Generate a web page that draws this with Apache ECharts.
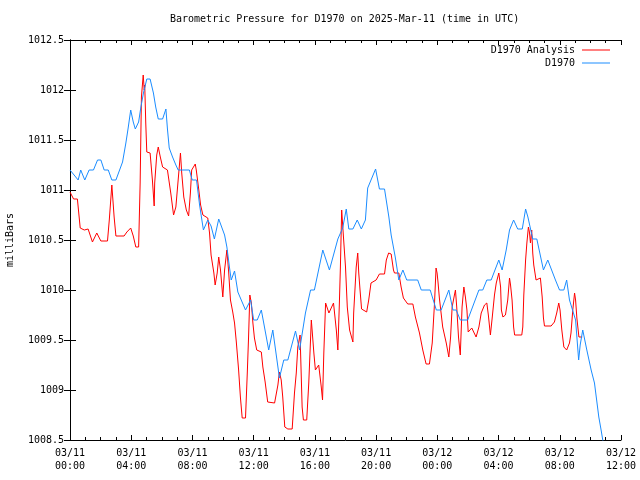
<!DOCTYPE html>
<html>
<head>
<meta charset="utf-8">
<script src="https://cdn.jsdelivr.net/npm/echarts@6/dist/echarts.min.js"></script>
<style>html,body{margin:0;padding:0;background:#fff}#c{width:640px;height:480px}</style>
</head>
<body>
<div id="c"></div>
<script>
// minutes since 2025-03-11 00:00 UTC
const xTickLabels = ['03/11\n00:00','03/11\n04:00','03/11\n08:00','03/11\n12:00','03/11\n16:00','03/11\n20:00','03/12\n00:00','03/12\n04:00','03/12\n08:00','03/12\n12:00'];
const yTickLabels = ['1008.5','1009','1009.5','1010','1010.5','1011','1011.5','1012','1012.5'];

const analysisTimes = [0,14,29,40,56,71,88,105,121,147,154,164,173,180,212,223,238,248,258,269,275,280,287,291,293,297,301,314,323,330,332,340,346,354,363,382,395,406,415,424,433,438,446,456,465,472,477,491,495,504,512,521,540,547,553,564,569,577,583,590,599,606,615,622,629,638,645,652,661,668,675,688,695,700,705,711,717,723,732,750,756,765,775,802,808,815,821,828,834,842,854,871,880,887,893,902,910,915,928,936,946,950,956,962,975,985,990,995,1002,1015,1033,1044,1050,1056,1060,1065,1072,1080,1087,1096,1109,1112,1122,1128,1132,1137,1143,1163,1171,1180,1200,1213,1233,1240,1249,1259,1268,1272,1289,1298,1307,1324,1344,1354,1370,1383,1396,1409,1420,1429,1435,1439,1443,1448,1461,1475,1485,1492,1498,1507,1511,1516,1523,1530,1537,1544,1550,1556,1561,1575,1592,1603,1612,1625,1634,1640,1648,1655,1664,1671,1681,1688,1691,1697,1707,1716,1723,1727,1733,1739,1743,1771,1775,1779,1786,1791,1797,1801,1805,1810,1814,1818,1827,1834,1844,1851,1856,1860,1886,1899,1908,1916,1921,1928,1936,1947,1958,1964,1971,1978,1982,1987,1995,2008];
const analysisValues = [1010.98,1010.91,1010.91,1010.62,1010.6,1010.61,1010.48,1010.57,1010.49,1010.49,1010.7,1011.05,1010.73,1010.54,1010.54,1010.58,1010.62,1010.54,1010.43,1010.43,1011.07,1011.93,1012.15,1012.0,1012.05,1011.67,1011.38,1011.37,1011.1,1010.84,1011.07,1011.35,1011.43,1011.33,1011.23,1011.2,1010.97,1010.75,1010.83,1011.1,1011.37,1011.17,1010.93,1010.8,1010.74,1010.97,1011.2,1011.26,1011.2,1011.02,1010.85,1010.75,1010.72,1010.57,1010.35,1010.17,1010.05,1010.17,1010.33,1010.2,1009.93,1010.2,1010.4,1010.18,1009.9,1009.78,1009.67,1009.48,1009.2,1008.93,1008.72,1008.72,1009.17,1009.53,1009.95,1009.87,1009.67,1009.52,1009.4,1009.38,1009.23,1009.08,1008.88,1008.87,1008.85,1009.05,1009.18,1009.1,1008.93,1008.63,1008.61,1008.61,1008.97,1009.17,1009.43,1009.55,1008.83,1008.7,1008.7,1009.07,1009.7,1009.57,1009.37,1009.2,1009.25,1009.03,1008.9,1009.37,1009.87,1009.77,1009.87,1009.6,1009.4,1009.87,1010.23,1010.8,1010.53,1010.23,1009.83,1009.6,1009.48,1009.77,1010.23,1010.37,1010.17,1010.0,1009.81,1009.78,1009.9,1010.07,1010.1,1010.16,1010.16,1010.3,1010.37,1010.36,1010.2,1010.17,1010.17,1010.03,1009.92,1009.86,1009.86,1009.73,1009.57,1009.4,1009.26,1009.26,1009.47,1009.87,1010.22,1010.17,1010.07,1009.92,1009.63,1009.47,1009.33,1009.53,1009.83,1009.95,1010.0,1009.83,1009.53,1009.35,1009.83,1010.03,1009.93,1009.8,1009.58,1009.62,1009.53,1009.63,1009.77,1009.85,1009.87,1009.75,1009.55,1009.72,1009.95,1010.07,1010.17,1010.03,1009.8,1009.73,1009.75,1009.9,1010.12,1010.05,1009.9,1009.63,1009.55,1009.55,1009.63,1009.95,1010.3,1010.47,1010.63,1010.58,1010.47,1010.6,1010.37,1010.25,1010.1,1010.08,1010.12,1009.93,1009.72,1009.64,1009.64,1009.68,1009.77,1009.87,1009.8,1009.6,1009.43,1009.4,1009.47,1009.57,1009.8,1009.97,1009.9,1009.72,1009.53,1009.53];

const stationTimes = [0,32,42,58,75,92,108,121,134,150,164,180,206,219,228,238,248,256,269,278,288,301,314,327,336,346,363,376,382,389,402,415,424,468,479,496,508,523,540,553,566,583,606,615,625,632,645,658,688,708,720,734,750,779,795,821,838,854,884,900,923,943,958,991,1017,1050,1069,1083,1093,1109,1126,1142,1158,1167,1198,1213,1233,1250,1259,1275,1289,1305,1320,1363,1377,1412,1436,1455,1485,1501,1514,1530,1559,1603,1618,1634,1651,1681,1694,1710,1723,1739,1755,1773,1786,1795,1814,1830,1856,1873,1903,1919,1936,1947,1958,1982,1994,2000,2010,2026,2043,2056,2073,2082,2095];
const stationValues = [1011.2,1011.1,1011.2,1011.1,1011.2,1011.2,1011.3,1011.3,1011.2,1011.2,1011.1,1011.1,1011.28,1011.47,1011.62,1011.8,1011.68,1011.61,1011.68,1011.83,1011.97,1012.11,1012.11,1011.97,1011.83,1011.71,1011.71,1011.81,1011.61,1011.42,1011.33,1011.25,1011.2,1011.2,1011.1,1011.1,1010.85,1010.6,1010.7,1010.64,1010.51,1010.71,1010.55,1010.43,1010.23,1010.1,1010.19,1009.98,1009.8,1009.9,1009.7,1009.7,1009.8,1009.4,1009.6,1009.12,1009.3,1009.3,1009.59,1009.4,1009.77,1010.0,1010.0,1010.4,1010.2,1010.51,1010.62,1010.81,1010.61,1010.61,1010.7,1010.61,1010.7,1011.02,1011.21,1011.01,1011.01,1010.73,1010.55,1010.33,1010.1,1010.2,1010.1,1010.1,1010.0,1010.0,1009.8,1009.8,1010.0,1009.8,1009.8,1009.7,1009.7,1010.0,1010.0,1010.1,1010.1,1010.3,1010.2,1010.4,1010.6,1010.7,1010.61,1010.61,1010.81,1010.73,1010.51,1010.51,1010.2,1010.3,1010.1,1010.0,1010.0,1010.1,1009.9,1009.7,1009.3,1009.45,1009.6,1009.4,1009.2,1009.07,1008.73,1008.6,1008.4];

const FONT = 'DejaVu Sans Mono';
const chart = echarts.init(document.getElementById('c'), null, {renderer: 'canvas'});
const axisLineStyle = {color: '#000', width: 1};
const xFmt = v => xTickLabels[Math.round(v / 240)] || '';
chart.setOption({
  animation: false,
  backgroundColor: '#fff',
  title: {
    text: 'Barometric Pressure for D1970 on 2025-Mar-11 (time in UTC)',
    left: 170, top: 14, padding: 0,
    textStyle: {fontFamily: FONT, fontSize: 10, fontWeight: 'normal', color: '#000'}
  },
  legend: [
    {data: ['D1970 Analysis'], right: 30, top: 45, padding: 0, align: 'right', orient: 'vertical',
     icon: 'rect', itemWidth: 28, itemHeight: 1,
     textStyle: {fontFamily: FONT, fontSize: 10, color: '#000', padding: [0, 2, 0, 0]}},
    {data: ['D1970'], right: 30, top: 58, padding: 0, align: 'right', orient: 'vertical',
     icon: 'rect', itemWidth: 28, itemHeight: 1,
     textStyle: {fontFamily: FONT, fontSize: 10, color: '#000', padding: [0, 2, 0, 0]}}
  ],
  grid: {left: 70, right: 19, top: 40, bottom: 40, containLabel: false, outerBoundsMode: 'none'},
  xAxis: [
    {type: 'value', min: 0, max: 2160, interval: 240,
     axisLine: {show: true, lineStyle: axisLineStyle},
     axisTick: {show: true, inside: true, length: 5, lineStyle: axisLineStyle},
     minorTick: {show: true, splitNumber: 4, length: 3, lineStyle: axisLineStyle},
     splitLine: {show: false},
     axisLabel: {formatter: xFmt, fontFamily: FONT, fontSize: 10, color: '#000', lineHeight: 13, margin: 7, showMaxLabel: true, showMinLabel: true}},
    {type: 'value', min: 0, max: 2160, interval: 240, position: 'top',
     axisLine: {show: true, lineStyle: axisLineStyle},
     axisTick: {show: true, inside: true, length: 5, lineStyle: axisLineStyle},
     minorTick: {show: true, splitNumber: 4, length: 3, lineStyle: axisLineStyle},
     splitLine: {show: false}, axisLabel: {show: false}}
  ],
  yAxis: [
    {type: 'value', min: 1008.5, max: 1012.5, interval: 0.5,
     name: 'milliBars', nameLocation: 'middle', nameGap: 55, nameRotate: 90,
     nameTextStyle: {fontFamily: FONT, fontSize: 10, color: '#000'},
     axisLine: {show: true, lineStyle: axisLineStyle},
     axisTick: {show: true, inside: true, length: 6, lineStyle: axisLineStyle},
     splitLine: {show: false},
     axisLabel: {formatter: v => yTickLabels[Math.round((v - 1008.5) / 0.5)] || '', fontFamily: FONT, fontSize: 10, color: '#000', margin: 6}},
    {type: 'value', min: 1008.5, max: 1012.5, interval: 0.5, position: 'right',
     axisLine: {show: true, lineStyle: axisLineStyle},
     axisTick: {show: true, inside: true, length: 6, lineStyle: axisLineStyle},
     splitLine: {show: false}, axisLabel: {show: false}}
  ],
  series: [
    {name: 'D1970 Analysis', type: 'line', xAxisIndex: 0, yAxisIndex: 0, showSymbol: false, symbol: 'none',
     color: '#ff0000', lineStyle: {color: '#ff0000', width: 1}, clip: true,
     data: analysisTimes.map((t, i) => [t, analysisValues[i]])},
    {name: 'D1970', type: 'line', xAxisIndex: 0, yAxisIndex: 0, showSymbol: false, symbol: 'none',
     color: '#1a8cff', lineStyle: {color: '#1a8cff', width: 1}, clip: true,
     data: stationTimes.map((t, i) => [t, stationValues[i]])}
  ]
});
</script>
</body>
</html>
